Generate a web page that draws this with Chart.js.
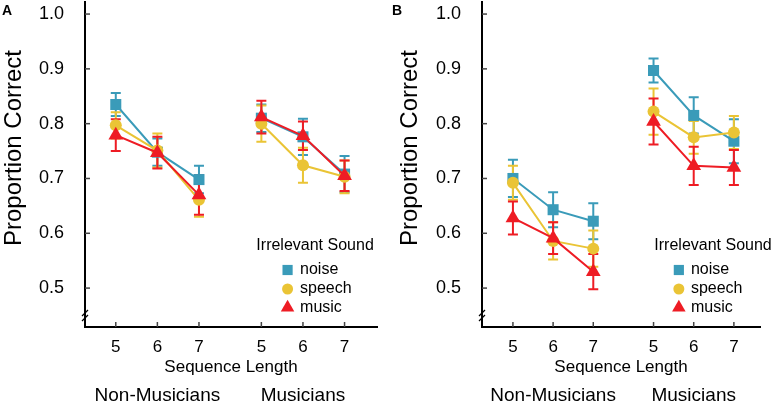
<!DOCTYPE html>
<html>
<head>
<meta charset="utf-8">
<script src="https://cdn.jsdelivr.net/npm/chart.js@4.4.1/dist/chart.umd.min.js"></script>
<style>
body { margin: 0; background: #fff; }
#wrap { position: relative; width: 777px; height: 404px; }
canvas { position: absolute; top: 0; }
</style>
</head>
<body>
<div id="wrap">
<canvas id="panelA" width="390" height="404" style="left:0"></canvas>
<canvas id="panelB" width="387" height="404" style="left:390px"></canvas>
</div>
<script>
// sequence length ticks, two groups
const seqLabels = ['5', '6', '7', '5', '6', '7']
const groups = ['Non-Musicians', 'Musicians']
const yTicks = [0.5, 0.6, 0.7, 0.8, 0.9, 1.0]
const seriesNames = ['noise', 'speech', 'music']

// panel A
const noiseA = [0.835, 0.748, 0.698, 0.810, 0.776, 0.708]
const noiseAErr = [0.021, 0.025, 0.025, 0.025, 0.033, 0.033]
const speechA = [0.797, 0.751, 0.661, 0.800, 0.724, 0.703]
const speechAErr = [0.024, 0.031, 0.031, 0.033, 0.032, 0.030]
const musicA = [0.779, 0.747, 0.670, 0.812, 0.778, 0.705]
const musicAErr = [0.029, 0.029, 0.036, 0.030, 0.026, 0.028]

// panel B
const noiseB = [0.700, 0.643, 0.622, 0.897, 0.815, 0.768]
const noiseBErr = [0.034, 0.032, 0.033, 0.022, 0.033, 0.040]
const speechB = [0.692, 0.586, 0.572, 0.822, 0.775, 0.784]
const speechBErr = [0.031, 0.034, 0.033, 0.042, 0.030, 0.030]
const musicB = [0.628, 0.591, 0.530, 0.804, 0.723, 0.720]
const musicBErr = [0.030, 0.029, 0.032, 0.042, 0.035, 0.032]

const FONT = "'Liberation Sans', Arial, Helvetica, sans-serif"
const colors = { noise: '#3a9bb9', speech: '#eac435', music: '#ee1c24' }
const styles = { noise: 'rect', speech: 'circle', music: 'triangle' }
const radii = { noise: 7.8, speech: 6, music: 8.5 }

// x position of item i (0..5): groups separated by a wider gap
const xOf = i => (i < 3 ? i + 1 : i + 1.5)
const xTicks = seqLabels.map((s, i) => xOf(i))

function toPoints(vals) {
    const pts = vals.map((v, i) => ({ x: xOf(i), y: v }))
    pts.splice(3, 0, { x: 3.75, y: null })
    return pts
}
function toErrs(errs) {
    const e = errs.slice()
    e.splice(3, 0, null)
    return e
}

function drawMarker(ctx, style, x, y, r) {
    ctx.beginPath()
    if (style === 'rect') {
        const s = r * Math.SQRT1_2
        ctx.rect(x - s, y - s, 2 * s, 2 * s)
    } else if (style === 'circle') {
        ctx.arc(x, y, r, 0, Math.PI * 2)
    } else {
        const w = r * Math.sin(Math.PI / 3)
        ctx.moveTo(x, y - r)
        ctx.lineTo(x + w, y + r / 2)
        ctx.lineTo(x - w, y + r / 2)
        ctx.closePath()
    }
    ctx.fill()
}

const extras = {
    id: 'extras',
    beforeDatasetsDraw(chart) {
        const ctx = chart.ctx
        const xs = chart.scales.x, ys = chart.scales.y
        ctx.save()
        ctx.lineWidth = 2
        chart.data.datasets.forEach(ds => {
            ctx.strokeStyle = ds.borderColor
            ds.data.forEach((p, i) => {
                const e = ds.errs[i]
                if (p.y === null || e === null) return
                const px = xs.getPixelForValue(p.x)
                const t = ys.getPixelForValue(p.y + e)
                const b = ys.getPixelForValue(p.y - e)
                ctx.beginPath()
                ctx.moveTo(px, t); ctx.lineTo(px, b)
                ctx.moveTo(px - 5, t); ctx.lineTo(px + 5, t)
                ctx.moveTo(px - 5, b); ctx.lineTo(px + 5, b)
                ctx.stroke()
            })
        })
        ctx.restore()
    },
    afterDraw(chart) {
        const ctx = chart.ctx
        const xs = chart.scales.x, ys = chart.scales.y
        const area = chart.chartArea
        ctx.save()
        // inward ticks
        ctx.strokeStyle = '#444'
        ctx.lineWidth = 1.5
        yTicks.forEach(v => {
            const y = ys.getPixelForValue(v)
            ctx.beginPath(); ctx.moveTo(area.left, y); ctx.lineTo(area.left + 5, y); ctx.stroke()
        })
        xTicks.forEach(v => {
            const x = xs.getPixelForValue(v)
            ctx.beginPath(); ctx.moveTo(x, area.bottom); ctx.lineTo(x, area.bottom - 5); ctx.stroke()
        })
        // axis break
        ctx.strokeStyle = '#000'
        ctx.lineWidth = 1.3
        const yb = ys.getPixelForValue(0.45)
        ;[-2.5, 2.5].forEach(d => {
            ctx.beginPath()
            ctx.moveTo(area.left - 3, yb + d + 3)
            ctx.lineTo(area.left + 3, yb + d - 3)
            ctx.stroke()
        })
        // y title, placed a little above the axis middle as in the source
        ctx.fillStyle = '#000'
        ctx.font = '24px ' + FONT
        ctx.textAlign = 'center'
        ctx.textBaseline = 'middle'
        ctx.save()
        ctx.translate(chart.options.yTitleX, 148)
        ctx.rotate(-Math.PI / 2)
        ctx.fillText('Proportion Correct', 0, 0)
        ctx.restore()
        // group labels
        ctx.font = '19px ' + FONT
        ctx.fillText(groups[0], xs.getPixelForValue(2), 396)
        ctx.fillText(groups[1], xs.getPixelForValue(5.5), 396)
        // legend
        const lg = chart.options.legendX
        ctx.font = '16px ' + FONT
        ctx.textAlign = 'left'
        ctx.fillText('Irrelevant Sound', xs.getPixelForValue(lg[0]), 246)
        const mx = xs.getPixelForValue(lg[1])
        const tx = xs.getPixelForValue(lg[2])
        const ly = [270, 289, 307.5]
        seriesNames.forEach((n, i) => {
            ctx.fillStyle = colors[n]
            drawMarker(ctx, styles[n], mx, ly[i], { noise: 7.2, speech: 5.5, music: 7.8 }[n])
            ctx.fillStyle = '#000'
            ctx.fillText(n, tx, ly[i])
        })
        // panel letter
        ctx.font = 'bold 14px ' + FONT
        ctx.textBaseline = 'top'
        ctx.fillText(chart.options.panelLetter, 2, 4)
        ctx.restore()
    }
}

function makePanel(id, letter, vals, errs, yWidth, rightPad, xMin, xMax, yTitleX, legendX) {
    const datasets = seriesNames.map((n, i) => ({
        label: n,
        data: toPoints(vals[i]),
        errs: toErrs(errs[i]),
        borderColor: colors[n],
        backgroundColor: colors[n],
        pointStyle: styles[n],
        pointRadius: radii[n],
        pointBorderWidth: 0,
        borderWidth: 2,
        spanGaps: false,
        tension: 0,
        order: 2 - i
    }))
    new Chart(document.getElementById(id), {
        type: 'line',
        data: { datasets: datasets },
        options: {
            panelLetter: letter,
            legendX: legendX,
            yTitleX: yTitleX,
            responsive: false,
            animation: false,
            events: [],
            layout: { autoPadding: false, padding: { left: 0, right: rightPad, top: 2, bottom: 0 } },
            plugins: { legend: { display: false }, tooltip: { enabled: false } },
            scales: {
                x: {
                    type: 'linear',
                    min: xMin,
                    max: xMax,
                    afterBuildTicks: sc => { sc.ticks = xTicks.map(v => ({ value: v })) },
                    afterFit: sc => {
                        sc.height = 77
                        sc.paddingLeft = 0
                        sc.paddingRight = 0
                    },
                    ticks: {
                        callback: (v, i) => seqLabels[i],
                        font: { size: 17, family: FONT },
                        color: '#000',
                        padding: 10,
                        maxRotation: 0,
                        autoSkip: false
                    },
                    grid: { drawOnChartArea: false, drawTicks: false },
                    border: { color: '#000', width: 2 },
                    title: {
                        display: true,
                        text: 'Sequence Length',
                        font: { size: 17, family: FONT },
                        color: '#000',
                        padding: { top: 0, bottom: 26 }
                    }
                },
                y: {
                    min: 0.429,
                    max: 1.022,
                    afterBuildTicks: sc => { sc.ticks = yTicks.map(v => ({ value: v })) },
                    afterFit: sc => {
                        sc.width = yWidth
                        sc.paddingTop = 0
                        sc.paddingBottom = 0
                    },
                    ticks: {
                        callback: v => v.toFixed(1),
                        font: { size: 18, family: FONT },
                        color: '#000',
                        padding: 21
                    },
                    grid: { drawOnChartArea: false, drawTicks: false },
                    border: { color: '#000', width: 2 },
                    title: { display: false }
                }
            }
        },
        plugins: [extras]
    })
}

makePanel('panelA', 'A',
    [noiseA, speechA, musicA], [noiseAErr, speechAErr, musicAErr],
    85, 13, 0.26, 7.28, 14.5, [4.38, 5.13, 5.43])
makePanel('panelB', 'B',
    [noiseB, speechB, musicB], [noiseBErr, speechBErr, musicBErr],
    92, 17, 0.23, 7.15, 20.5, [4.52, 5.13, 5.43])
</script>
</body>
</html>
